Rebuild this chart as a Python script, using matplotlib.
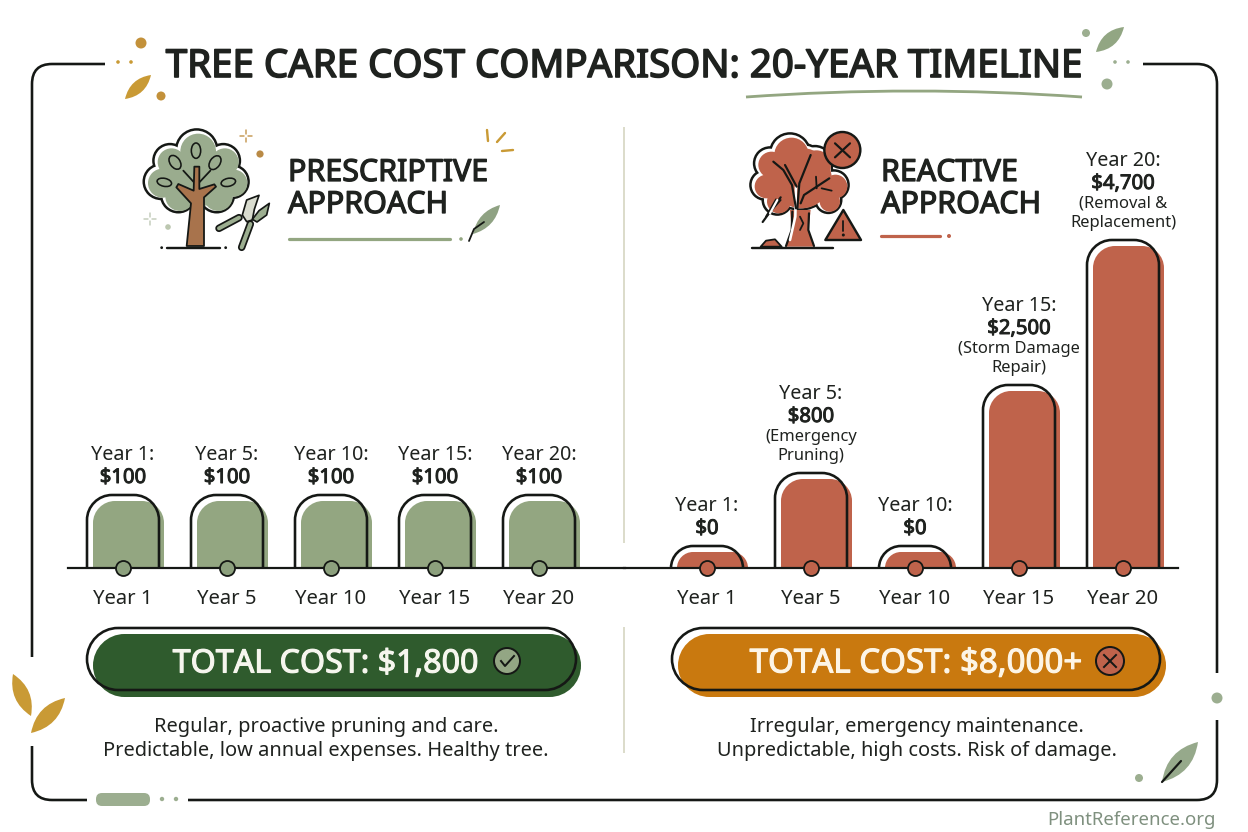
import numpy as np
import matplotlib
matplotlib.use('Agg')
import matplotlib.pyplot as plt
import matplotlib.patheffects as pe
from matplotlib.path import Path
from matplotlib.patches import PathPatch, Circle, FancyBboxPatch, Polygon, Ellipse

plt.rcParams['font.family'] = ['Noto Sans', 'DejaVu Sans']

title = 'TREE CARE COST COMPARISON: 20-YEAR TIMELINE'
years = ['Year 1', 'Year 5', 'Year 10', 'Year 15', 'Year 20']
prescriptive_costs = [100, 100, 100, 100, 100]
reactive_costs = [0, 800, 0, 2500, 4700]
reactive_notes = ['', '(Emergency\nPruning)', '', '(Storm Damage\nRepair)', '(Removal &\nReplacement)']
prescriptive_total = 'TOTAL COST: $1,800'
reactive_total = 'TOTAL COST: $8,000+'
prescriptive_text = ['Regular, proactive pruning and care.', 'Predictable, low annual expenses. Healthy tree.']
reactive_text = ['Irregular, emergency maintenance.', 'Unpredictable, high costs. Risk of damage.']

# the bars in the picture are not to scale, these knots are the drawn heights (px) per cost
scale_costs = [-100, 0, 100, 800, 2500, 4700, 5500]
scale_px = [0, 22, 73, 95, 183, 328, 368]

INK = '#151815'
TEXT = '#1f221f'
SAGE = '#93a681'
SAGE_LIGHT = '#9cae90'
CROWN = '#9aac8e'
DARK_GREEN = '#2f5b2d'
BRICK = '#bf634b'
ORANGE = '#c9790f'
GOLD = '#c99a35'
BROWN = '#a8734c'
PX = 0.72  # points per pixel at dpi 100
KAPPA = 0.55


def forward(v):
    return np.interp(v, scale_costs, scale_px)


def inverse(v):
    return np.interp(v, scale_px, scale_costs)


def heavy(amount, color=TEXT):
    # Noto Sans only comes in one weight here, thicken it with a stroke
    return [pe.withStroke(linewidth=amount, foreground=color)]


fig = plt.figure(figsize=(12.48, 8.32), dpi=100, facecolor='white')
deco = fig.add_axes([0, 0, 1, 1], zorder=0)
deco.set_xlim(0, 1248)
deco.set_ylim(832, 0)
deco.axis('off')
top_layer = fig.add_axes([0, 0, 1, 1], zorder=5)
top_layer.set_xlim(0, 1248)
top_layer.set_ylim(832, 0)
top_layer.axis('off')


def rounded_top(x0, x1, top, base, r):
    r = min(r, base - top)
    k = r * (1 - KAPPA)
    verts = [(x0, base), (x0, top + r), (x0, top + k), (x0 + k, top), (x0 + r, top), (x1 - r, top),
             (x1 - k, top), (x1, top + k), (x1, top + r), (x1, base)]
    codes = [Path.MOVETO, Path.LINETO, Path.CURVE4, Path.CURVE4, Path.CURVE4, Path.LINETO,
             Path.CURVE4, Path.CURVE4, Path.CURVE4, Path.LINETO]
    return Path(verts, codes)


def pill_path(x0, x1, y0, y1):
    r = (y1 - y0) / 2
    k = r * (1 - KAPPA)
    verts = [(x0 + r, y0), (x1 - r, y0), (x1 - k, y0), (x1, y0 + k), (x1, y0 + r), (x1, y1 - k), (x1 - k, y1),
             (x1 - r, y1), (x0 + r, y1), (x0 + k, y1), (x0, y1 - k), (x0, y0 + r), (x0, y0 + k), (x0 + k, y0),
             (x0 + r, y0)]
    codes = [Path.MOVETO, Path.LINETO] + [Path.CURVE4] * 6 + [Path.LINETO] + [Path.CURVE4] * 6
    return Path(verts, codes)


def chart_axes(x0, x1, first):
    ax = fig.add_axes([x0 / 1248, (832 - 568) / 832, (x1 - x0) / 1248, 368 / 832], zorder=2)
    ax.patch.set_alpha(0)
    ax.set_yscale('function', functions=(forward, inverse))
    ax.set_xlim((x0 - first) / 104, (x1 - first) / 104)
    ax.set_ylim(-100, 5500)
    for side in ['top', 'left', 'right']:
        ax.spines[side].set_visible(False)
    ax.spines['bottom'].set_linewidth(2.2 * PX)
    ax.spines['bottom'].set_color(INK)
    ax.set_yticks([])
    ax.minorticks_off()
    ax.set_xticks(range(5))
    ax.set_xticklabels(years)
    ax.tick_params(axis='x', length=0, pad=15, labelsize=14.6, labelcolor=TEXT)
    ax.tick_params(axis='y', which='both', length=0, left=False, labelleft=False)
    return ax


def draw_bars(ax, costs, color, dot_color, notes=None):
    x = np.arange(5)
    base = -100
    bars = ax.bar(x + 0.03, np.array(costs) + 100, bottom=base, width=0.9, color=color, linewidth=0, zorder=1)
    for i, bar in enumerate(bars):
        ext = ax.transData.transform([(x[i], costs[i]), (x[i], base)])
        cx = ext[0][0]
        top = 832 - ext[0][1]
        left, right = cx - 36, cx + 36
        bar.set_clip_path(rounded_top(left + 6, right + 5, top + 6, 568, 22), deco.transData)
        ax.add_patch(PathPatch(rounded_top(left, right, top, 568, 25), fill=False, edgecolor=INK,
                               linewidth=2.6 * PX, transform=deco.transData, clip_on=False, zorder=2))
    ax.scatter(x, [base] * 5, s=(15 * PX) ** 2, color=dot_color, edgecolor=INK, linewidth=1.8 * PX, clip_on=False, zorder=5)
    for i, cost in enumerate(costs):
        off = 17
        if notes and notes[i]:
            for line in notes[i].split('\n')[::-1]:
                ax.annotate(line, (i, cost), xytext=(0, off), textcoords='offset pixels', ha='center', va='center',
                            fontsize=11.9, color=TEXT)
                off += 19
            off += 1
        ax.annotate(f'${cost:,}', (i, cost), xytext=(0, off), textcoords='offset pixels', ha='center', va='center',
                    fontsize=14.6, color=TEXT, path_effects=heavy(0.7))
        ax.annotate(f'{years[i]}:', (i, cost), xytext=(0, off + 23), textcoords='offset pixels', ha='center',
                    va='center', fontsize=14.2, color=TEXT)


def pill(x0, x1, right_fill, fill_color):
    deco.add_patch(PathPatch(pill_path(x0 + 6, right_fill, 634, 697), facecolor=fill_color, edgecolor='none'))
    deco.add_patch(PathPatch(pill_path(x0, x1, 628, 690), facecolor='none', edgecolor=INK, linewidth=2.6 * PX, zorder=3))


def leaf(x0, y0, x1, y1, w, color):
    mx, my = (x0 + x1) / 2, (y0 + y1) / 2
    dx, dy = x1 - x0, y1 - y0
    n = np.hypot(dx, dy)
    nx, ny = -dy / n * w * 2, dx / n * w * 2
    verts = [(x0, y0), (mx + nx, my + ny), (x1, y1), (mx - nx, my - ny), (x0, y0)]
    codes = [Path.MOVETO, Path.CURVE3, Path.CURVE3, Path.CURVE3, Path.CURVE3]
    deco.add_patch(PathPatch(Path(verts, codes), facecolor=color, edgecolor='none'))


def dot(x, y, r, color):
    deco.add_patch(Circle((x, y), r, facecolor=color, edgecolor='none'))


def stroke(xs, ys, color=INK, lw=2.2, **kw):
    deco.plot(xs, ys, color=color, lw=lw * PX, solid_capstyle='round', solid_joinstyle='round', **kw)


def sparkle(x, y, color):
    stroke([x - 6, x - 2], [y, y], color=color, lw=1.5)
    stroke([x + 2, x + 6], [y, y], color=color, lw=1.5)
    stroke([x, x], [y - 6, y - 2], color=color, lw=1.5)
    stroke([x, x], [y + 2, y + 6], color=color, lw=1.5)


def crown(lobes, color):
    for cx, cy, r in lobes:
        deco.add_patch(Circle((cx, cy), r + 2.5, facecolor=INK, edgecolor='none'))
    for cx, cy, r in lobes:
        deco.add_patch(Circle((cx, cy), r, facecolor='white', edgecolor='none'))
    for cx, cy, r in lobes:
        deco.add_patch(Circle((cx + 1.5, cy + 1.5), r - 1.5, facecolor=color, edgecolor='none'))


def prescriptive_tree():
    # icon sketched in crop coordinates, 3 units per pixel
    def z(points):
        return [(135 + px / 3, 120 + py / 3) for px, py in points]

    lobes = [(185, 90, 58), (105, 122, 46), (265, 122, 46), (78, 185, 48), (292, 185, 45),
             (130, 225, 48), (245, 225, 48), (185, 170, 90)]
    crown([(135 + a / 3, 120 + b / 3, c / 3) for a, b, c in lobes], CROWN)
    deco.add_patch(Polygon(z([(178, 140), (193, 140), (193, 207), (238, 193), (243, 200), (207, 232), (207, 378),
                              (155, 378), (168, 250), (124, 202), (130, 192), (176, 212)]),
                           facecolor=BROWN, edgecolor=INK, linewidth=1.8 * PX, zorder=3, joinstyle='round'))
    for seg in [[(145, 152), (176, 186)], [(226, 152), (194, 186)]]:
        pts = z(seg)
        stroke([pts[0][0], pts[1][0]], [pts[0][1], pts[1][1]], lw=1.8)
    for cx, cy, w, h, a in [(183, 92, 28, 46, 0), (120, 127, 30, 46, -35), (240, 128, 30, 46, 35),
                            (88, 187, 44, 24, 12), (280, 187, 44, 24, -12)]:
        c = z([(cx, cy)])[0]
        deco.add_patch(Ellipse(c, w / 3, h / 3, angle=a, facecolor=CROWN, edgecolor=INK, linewidth=1.6 * PX))
    g = z([(97, 383), (255, 383), (80, 383), (272, 383)])
    stroke([g[0][0], g[1][0]], [g[0][1], g[1][1]], lw=2.4)
    dot(g[2][0], g[2][1], 1.4, INK)
    dot(g[3][0], g[3][1], 1.4, INK)
    # pruners
    for seg in [[(252, 325), (312, 293)], [(320, 382), (346, 312)]]:
        pts = z(seg)
        xs, ys = [pts[0][0], pts[1][0]], [pts[0][1], pts[1][1]]
        stroke(xs, ys, lw=7.5)
        stroke(xs, ys, color=SAGE_LIGHT, lw=4)
    deco.add_patch(Polygon(z([(322, 285), (335, 240), (372, 226), (358, 268), (352, 300), (335, 305)]),
                           facecolor='#d9dccf', edgecolor=INK, linewidth=1.7 * PX, joinstyle='round', zorder=3))
    deco.add_patch(Polygon(z([(352, 298), (372, 272), (403, 250), (395, 285), (366, 306)]),
                           facecolor=SAGE_LIGHT, edgecolor=INK, linewidth=1.7 * PX, joinstyle='round', zorder=3))
    sparkle(246, 136, '#c69a55')
    dot(260, 154, 3.6, '#b98a45')
    sparkle(150, 219, '#c4cdbc')
    dot(168, 227, 2.8, '#bcc7b0')


def reactive_tree():
    def z(points):
        return [(740 + px / 3, 120 + py / 3) for px, py in points]

    def line(points, lw=2.2, color=INK, zorder=4):
        pts = z(points)
        stroke([p[0] for p in pts], [p[1] for p in pts], lw=lw, color=color, zorder=zorder)

    lobes = [(150, 100, 56), (90, 130, 44), (225, 130, 48), (75, 195, 40), (282, 195, 40),
             (112, 240, 40), (265, 240, 35), (180, 170, 95)]
    crown([(740 + a / 3, 120 + b / 3, c / 3) for a, b, c in lobes], BRICK)
    deco.add_patch(Polygon(z([(150, 270), (212, 270), (205, 330), (222, 380), (138, 380), (155, 330)]),
                           facecolor=BRICK, edgecolor='none', zorder=3))
    line([(157, 275), (155, 330), (138, 378)], lw=2.2)
    line([(207, 280), (205, 330), (222, 378)], lw=2.2)
    line([(168, 200), (166, 290), (150, 360)], lw=2.6, color='white')
    line([(100, 125), (130, 150), (156, 195), (168, 265)])
    line([(135, 135), (170, 200)])
    line([(212, 105), (178, 190), (172, 265)])
    line([(268, 175), (192, 225), (182, 250)])
    line([(228, 170), (230, 205)], lw=1.8)
    line([(245, 205), (275, 212)], lw=1.8)
    line([(180, 290), (190, 310), (180, 330)], lw=1.8)
    line([(122, 232), (68, 306)], lw=2.2)
    line([(108, 238), (78, 290), (122, 240)], lw=1.8)
    line([(112, 240), (90, 280)], lw=2.2, color='white')
    deco.add_patch(Polygon(z([(62, 380), (78, 362), (105, 358), (125, 380)]), facecolor=BRICK, edgecolor=INK,
                           linewidth=1.8 * PX, joinstyle='round', zorder=3))
    line([(35, 383), (278, 383)], lw=2.4)
    c = z([(307, 90)])[0]
    deco.add_patch(Circle(c, 18, facecolor=BRICK, edgecolor=INK, linewidth=2.4 * PX, zorder=5))
    line([(285, 70), (330, 112)], lw=2.2, zorder=6)
    line([(330, 70), (285, 112)], lw=2.2, zorder=6)
    deco.add_patch(Polygon(z([(310, 270), (363, 360), (256, 360)]), closed=True, facecolor=BRICK, edgecolor=INK,
                           linewidth=2.4 * PX, joinstyle='round', zorder=5))
    line([(310, 303), (310, 332)], lw=1.8, zorder=6)
    d = z([(310, 345)])[0]
    deco.add_patch(Circle(d, 1.5, facecolor=INK, edgecolor='none', zorder=6))


# frame with gaps for the title and the decoration
R = 20
frame_left = Path([(105, 64), (32 + R, 64), (32, 64), (32, 64 + R), (32, 657)],
                  [Path.MOVETO, Path.LINETO, Path.CURVE3, Path.CURVE3, Path.LINETO])
frame_low_left = Path([(32, 746), (32, 800 - R), (32, 800), (32 + R, 800), (87, 800)],
                      [Path.MOVETO, Path.LINETO, Path.CURVE3, Path.CURVE3, Path.LINETO])
frame_low_right = Path([(188, 800), (1217 - R, 800), (1217, 800), (1217, 800 - R), (1217, 720)],
                       [Path.MOVETO, Path.LINETO, Path.CURVE3, Path.CURVE3, Path.LINETO])
frame_right = Path([(1217, 673), (1217, 64 + R), (1217, 64), (1217 - R, 64), (1143, 64)],
                   [Path.MOVETO, Path.LINETO, Path.CURVE3, Path.CURVE3, Path.LINETO])
for part in [frame_left, frame_low_left, frame_low_right, frame_right]:
    deco.add_patch(PathPatch(part, fill=False, edgecolor=INK, linewidth=2.6 * PX))

deco.text(624, 67, title, ha='center', va='center', fontsize=27.7, color=TEXT, path_effects=heavy(1.2))
deco.add_patch(PathPatch(Path([(746, 97), (914, 85), (1082, 97)], [Path.MOVETO, Path.CURVE3, Path.CURVE3]),
                         fill=False, edgecolor=SAGE, linewidth=2.8 * PX))

deco.plot([624, 624], [128, 542], color='#dcdccb', lw=2 * PX)
deco.plot([624, 624], [628, 752], color='#dcdccb', lw=2 * PX)

# headers
for x, y, label in [(288, 173, 'PRESCRIPTIVE'), (288, 205, 'APPROACH'), (881, 173, 'REACTIVE'), (881, 205, 'APPROACH')]:
    deco.text(x, y, label, ha='left', va='center', fontsize=21.9, color=TEXT, path_effects=heavy(0.9))
stroke([289, 450], [239, 239], color=SAGE, lw=3.2)
dot(461, 239, 1.8, SAGE)
stroke([881, 940], [236, 236], color=BRICK, lw=3.2)
dot(949, 236, 2, BRICK)
leaf(473, 234, 500, 205, 6, '#8fa283')
stroke([469, 474, 484], [241, 229, 222], lw=1.8)
for xs, ys in [([487, 488], [130, 141]), ([497, 505], [142, 133]), ([502, 513], [151, 150])]:
    stroke(xs, ys, color=GOLD, lw=2.4)

prescriptive_tree()
reactive_tree()

# decoration around the frame
dot(141, 43, 5.5, '#c3913a')
dot(161, 96, 4.5, '#c3913a')
dot(118, 62, 1.8, GOLD)
dot(131, 62, 1.8, GOLD)
leaf(125, 99, 151, 75, 6, GOLD)
leaf(1096, 52, 1124, 27, 6.5, '#92a683')
dot(1086, 33, 4, SAGE_LIGHT)
dot(1107, 84, 5.5, SAGE_LIGHT)
dot(1115, 62, 1.8, SAGE_LIGHT)
dot(1128, 62, 1.8, SAGE_LIGHT)
leaf(13, 674, 31, 716, 7.5, GOLD)
leaf(31, 733, 65, 698, 8, GOLD)
leaf(1162, 782, 1198, 742, 9, '#96a98b')
stroke([1162, 1181], [782, 761], lw=2.2)
dot(1217, 698, 5.5, SAGE_LIGHT)
dot(1139, 778, 4, SAGE_LIGHT)
deco.add_patch(FancyBboxPatch((102, 799), 42, 1, boxstyle='round,pad=6,rounding_size=6', facecolor=SAGE_LIGHT,
                              edgecolor='none', zorder=3))
dot(162, 799, 2.2, SAGE_LIGHT)
dot(176, 799, 2.2, SAGE_LIGHT)

# bars
left_ax = chart_axes(68, 625, 123)
right_ax = chart_axes(624, 1178, 707)
draw_bars(left_ax, prescriptive_costs, SAGE, '#8ca07d')
draw_bars(right_ax, reactive_costs, BRICK, BRICK, reactive_notes)

# totals
pill(87, 576, 581, DARK_GREEN)
pill(672, 1160, 1166, ORANGE)
top_layer.text(326, 664, prescriptive_total, ha='center', va='center', fontsize=23.2, color='#f6f6ee',
               path_effects=heavy(0.8, '#f6f6ee'))
top_layer.text(916, 664, reactive_total, ha='center', va='center', fontsize=23.8, color='#fdf5e6',
               path_effects=heavy(0.8, '#fdf5e6'))
top_layer.add_patch(Circle((507, 661), 13, facecolor='#93a684', edgecolor=INK, linewidth=2 * PX))
top_layer.plot([501, 505, 514], [661, 666, 656], color=INK, lw=2 * PX)
top_layer.add_patch(Circle((1110, 661), 14, facecolor=BRICK, edgecolor=INK, linewidth=2 * PX))
top_layer.plot([1104, 1116], [655, 667], color=INK, lw=2 * PX)
top_layer.plot([1104, 1116], [667, 655], color=INK, lw=2 * PX)

for i, line in enumerate(prescriptive_text):
    deco.text(326, 727 + 24 * i, line, ha='center', va='center', fontsize=14.4, color=TEXT)
for i, line in enumerate(reactive_text):
    deco.text(917, 727 + 24 * i, line, ha='center', va='center', fontsize=14.4, color=TEXT)

deco.text(1216, 820, 'PlantReference.org', ha='right', va='center', fontsize=13.4, color='#7f907f')

fig.savefig('out.png', dpi=100, facecolor='white')
